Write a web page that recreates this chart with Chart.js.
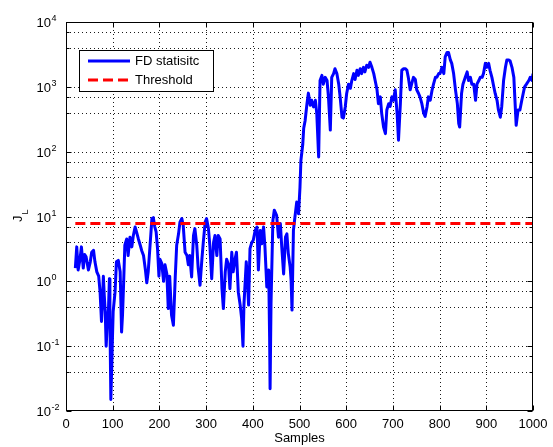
<!DOCTYPE html>
<html>
<head>
<meta charset="utf-8">
<script src="https://cdn.jsdelivr.net/npm/chart.js@4.4.1/dist/chart.umd.min.js"></script>
<style>
  html, body { margin: 0; padding: 0; background: #fff; }
  canvas { display: block; }
</style>
</head>
<body>
<canvas id="myChart" width="553" height="447"></canvas>
<script>
// sample index (x) and J_L statistic (y)
const samples = [
  20, 23, 26, 30, 33, 37, 40, 43, 48, 52, 55, 59, 62, 66, 70, 73, 76, 78, 80, 82,
  84, 86, 88, 91, 93, 94, 96, 98, 99, 101, 105, 108, 112, 116, 119, 121, 123, 126, 130, 133,
  137, 141, 144, 148, 151, 155, 159, 162, 166, 170, 173, 176, 180, 184, 187, 190, 193, 196, 199, 201,
  205, 209, 212, 216, 219, 222, 226, 230, 234, 237, 241, 244, 248, 251, 255, 259, 262, 265, 269, 273,
  276, 280, 283, 287, 291, 294, 298, 301, 305, 308, 312, 316, 319, 323, 326, 330, 334, 337, 341, 344,
  348, 351, 355, 358, 362, 365, 369, 373, 376, 379, 381, 386, 389, 391, 394, 398, 401, 405, 409, 412,
  416, 419, 423, 426, 430, 434, 436, 437, 439, 443, 446, 451, 455, 459, 462, 466, 470, 473, 476, 480,
  482, 484, 487, 491, 494, 498, 501, 503, 507, 509, 512, 516, 519, 523, 526, 530, 534, 537, 541, 544,
  548, 551, 555, 559, 562, 566, 569, 573, 576, 580, 584, 587, 591, 594, 598, 601, 605, 609, 612, 616,
  619, 623, 626, 630, 633, 637, 640, 644, 648, 651, 655, 659, 662, 666, 669, 673, 676, 680, 684, 687,
  691, 694, 698, 701, 705, 709, 712, 716, 719, 723, 727, 730, 733, 737, 740, 744, 748, 751, 755, 758,
  762, 766, 769, 773, 776, 780, 784, 787, 791, 794, 798, 801, 805, 809, 812, 816, 819, 823, 826, 830,
  834, 838, 841, 843, 847, 850, 855, 859, 862, 866, 869, 873, 877, 880, 884, 887, 891, 894, 898, 901,
  905, 908, 912, 916, 919, 923, 926, 930, 933, 937, 941, 944, 948, 951, 955, 959, 961, 964, 968, 972,
  976, 979, 982, 986, 991, 994, 998, 1000
];
const jl = [
  1.6, 3.4, 1.5, 2.2, 3.4, 1.6, 2.6, 2.4, 1.5, 2.0, 2.8, 3.0, 2.0, 1.4, 1.2, 0.68, 0.24, 0.5, 1.2, 0.6,
  0.34, 0.1, 0.2, 0.38, 1.1, 0.3, 0.015, 0.05, 0.1, 0.34, 0.68, 2.0, 2.1, 1.4, 0.165, 0.3, 0.77, 3.6, 4.5, 2.5,
  4.8, 3.4, 5.0, 6.9, 5.8, 4.5, 3.6, 3.0, 2.5, 1.5, 0.95, 1.4, 3.6, 9.3, 9.6, 7.0, 5.8, 3.2, 1.2, 2.2,
  1.9, 1.0, 1.8, 1.3, 0.38, 1.2, 0.3, 0.21, 1.2, 3.6, 5.4, 8.2, 9.3, 7.3, 2.8, 2.5, 1.8, 2.5, 1.17, 5.1,
  6.5, 3.6, 1.6, 0.87, 2.2, 4.0, 8.2, 9.3, 6.5, 3.6, 1.1, 4.0, 5.1, 2.5, 5.1, 4.5, 0.77, 0.38, 1.4, 2.2,
  1.8, 0.77, 2.8, 1.4, 2.2, 2.8, 0.68, 0.43, 0.27, 0.1, 0.43, 2.0, 0.87, 0.43, 3.2, 4.0, 4.3, 6.1, 6.9, 1.5,
  6.1, 3.8, 6.9, 3.4, 0.82, 1.5, 0.14, 0.022, 0.45, 8.7, 12.5, 10.4, 4.8, 7.8, 3.4, 1.3, 4.8, 5.4, 2.7, 1.66,
  1.04, 0.36, 6.1, 11, 16.7, 11, 28, 73, 130, 230, 300, 550, 800, 520, 620, 490, 620, 390, 83, 1250,
  1500, 1100, 1400, 1250, 700, 215, 1400, 1600, 1900, 1600, 1100, 700, 340, 330, 490, 790, 1100, 950, 1250, 1600,
  1300, 1800, 1500, 1900, 1600, 2000, 1700, 2150, 2000, 2400, 2000, 1600, 1250, 900, 550, 700, 390, 240, 190, 440,
  550, 500, 700, 620, 900, 390, 150, 550, 1800, 1900, 1900, 1800, 1400, 900, 1100, 1400, 1300, 900, 790, 700,
  550, 390, 350, 490, 700, 620, 900, 1100, 1400, 1400, 1600, 1600, 2000, 1600, 2900, 3400, 3400, 2600, 2300, 1600,
  900, 550, 270, 240, 790, 1100, 1400, 1700, 1250, 1400, 1100, 1100, 620, 1100, 1250, 1400, 1400, 1600, 2300, 2000,
  2300, 1800, 1400, 1000, 790, 620, 440, 340, 490, 1250, 2000, 2600, 2600, 2500, 2000, 1400, 700, 255, 440, 440,
  620, 790, 1000, 1100, 1250, 1400, 1250, 1600
];
const thresholdX = [20, 1000];
const thresholdY = [7.8, 7.8];

const seriesNames = ['FD statisitc', 'Threshold'];
const xTicks = [0, 100, 200, 300, 400, 500, 600, 700, 800, 900, 1000];
const yDecades = [-2, -1, 0, 1, 2, 3, 4];
const xTitle = 'Samples';
const yTitle = 'J';
const yTitleSub = 'L';

const FONT = "'Liberation Sans', Arial, Helvetica, sans-serif";

// 1..9 x 10^e for every decade, plus the top decade
const yTickValues = [];
yDecades.forEach((e, i) => {
  if (i === yDecades.length - 1) { yTickValues.push(Math.pow(10, e)); return; }
  for (let k = 1; k <= 9; k++) yTickValues.push(k * Math.pow(10, e));
});

const ctx = document.getElementById('myChart').getContext('2d');

// MATLAB-style box, dotted grid, inward ticks, labels and legend
const matlabAxes = {
  id: 'matlabAxes',
  beforeDatasetsDraw(chart) {
    const { ctx, chartArea: a, scales: { x, y } } = chart;
    ctx.save();
    ctx.strokeStyle = '#1a1a1a';
    ctx.lineWidth = 1;
    ctx.setLineDash([1, 3]);
    x.ticks.forEach(t => {
      if (t.value <= x.min || t.value >= x.max) return;
      const px = Math.round(x.getPixelForValue(t.value)) + 0.5;
      ctx.beginPath(); ctx.moveTo(px, a.top); ctx.lineTo(px, a.bottom); ctx.stroke();
    });
    y.ticks.forEach(t => {
      if (t.value <= y.min || t.value >= y.max) return;
      const py = Math.round(y.getPixelForValue(t.value)) + 0.5;
      ctx.beginPath(); ctx.moveTo(a.left, py); ctx.lineTo(a.right, py); ctx.stroke();
    });
    ctx.restore();
  },
  afterDatasetsDraw(chart) {
    const { ctx, chartArea: a, scales: { x, y } } = chart;
    const L = a.left + 0.5, R = a.right - 0.5, T = a.top + 0.5, B = a.bottom - 0.5;
    ctx.save();
    ctx.setLineDash([]);
    ctx.strokeStyle = '#000';
    ctx.lineWidth = 1;
    ctx.strokeRect(L, T, R - L, B - T);

    // ticks
    ctx.beginPath();
    x.ticks.forEach(t => {
      const px = Math.round(x.getPixelForValue(t.value)) + 0.5;
      ctx.moveTo(px, B); ctx.lineTo(px, B - 5);
      ctx.moveTo(px, T); ctx.lineTo(px, T + 5);
    });
    y.ticks.forEach(t => {
      const py = Math.round(y.getPixelForValue(t.value)) + 0.5;
      const len = t.major ? 5 : 3;
      ctx.moveTo(L, py); ctx.lineTo(L + len, py);
      ctx.moveTo(R, py); ctx.lineTo(R - len, py);
    });
    ctx.stroke();

    // tick labels
    ctx.fillStyle = '#000';
    ctx.font = '13px ' + FONT;
    ctx.textAlign = 'center';
    ctx.textBaseline = 'alphabetic';
    x.ticks.forEach(t => {
      ctx.fillText(String(t.value), x.getPixelForValue(t.value), 428);
    });
    y.ticks.filter(t => t.major).forEach(t => {
      const py = y.getPixelForValue(t.value);
      const e = Math.round(Math.log10(t.value));
      ctx.font = '13px ' + FONT;
      ctx.textAlign = 'right';
      ctx.fillText('10', a.left - 15, py + 5);
      ctx.font = '9px ' + FONT;
      ctx.textAlign = 'left';
      ctx.fillText(String(e), a.left - 14.5, py - 1);
    });

    // axis titles
    ctx.font = '13px ' + FONT;
    ctx.textAlign = 'center';
    ctx.fillText(xTitle, (a.left + a.right) / 2, 442);
    ctx.save();
    ctx.translate(22, 222);
    ctx.rotate(-Math.PI / 2);
    ctx.textAlign = 'left';
    ctx.font = '13px ' + FONT;
    ctx.fillText(yTitle, 0, 0);
    const w = ctx.measureText(yTitle).width;
    ctx.font = '9px ' + FONT;
    ctx.fillText(yTitleSub, w + 1, 6);
    ctx.restore();

    // legend box
    const lx = 79.5, ly = 50.5, lw = 134, lh = 41;
    ctx.fillStyle = '#fff';
    ctx.fillRect(lx, ly, lw, lh);
    ctx.strokeStyle = '#000';
    ctx.lineWidth = 1;
    ctx.strokeRect(lx, ly, lw, lh);
    const rows = [61, 80];
    chart.data.datasets.forEach((ds, i) => {
      ctx.save();
      ctx.strokeStyle = ds.borderColor;
      ctx.lineWidth = ds.borderWidth;
      ctx.setLineDash(ds.borderDash || []);
      ctx.beginPath();
      ctx.moveTo(88, rows[i]);
      ctx.lineTo(130, rows[i]);
      ctx.stroke();
      ctx.restore();
      ctx.fillStyle = '#000';
      ctx.font = '13px ' + FONT;
      ctx.textAlign = 'left';
      ctx.textBaseline = 'middle';
      ctx.fillText(ds.label, 135, rows[i] + 0.5);
    });
    ctx.restore();
  }
};

new Chart(ctx, {
  type: 'line',
  data: {
    datasets: [
      {
        label: seriesNames[0],
        data: samples.map((s, i) => ({ x: s, y: jl[i] })),
        borderColor: '#0000ff',
        borderWidth: 3,
        pointRadius: 0,
        tension: 0,
        borderJoinStyle: 'round',
        order: 1,
      },
      {
        label: seriesNames[1],
        data: thresholdX.map((s, i) => ({ x: s, y: thresholdY[i] })),
        borderColor: '#ff0000',
        borderWidth: 3,
        borderDash: [10, 5],
        pointRadius: 0,
        order: 0,
      },
    ],
  },
  options: {
    responsive: false,
    animation: false,
    layout: { padding: { left: 66, right: 20, top: 22, bottom: 36 } },
    plugins: { legend: { display: false }, tooltip: { enabled: false } },
    scales: {
      x: {
        type: 'linear',
        min: 0,
        max: 1000,
        display: false,
        afterBuildTicks: (scale) => { scale.ticks = xTicks.map(v => ({ value: v })); },
      },
      y: {
        type: 'logarithmic',
        min: 0.01,
        max: 10000,
        display: false,
        afterBuildTicks: (scale) => {
          scale.ticks = yTickValues.map(v => ({
            value: v,
            major: Math.abs(Math.log10(v) - Math.round(Math.log10(v))) < 1e-9,
          }));
        },
      },
    },
  },
  plugins: [matlabAxes],
});
</script>
</body>
</html>
